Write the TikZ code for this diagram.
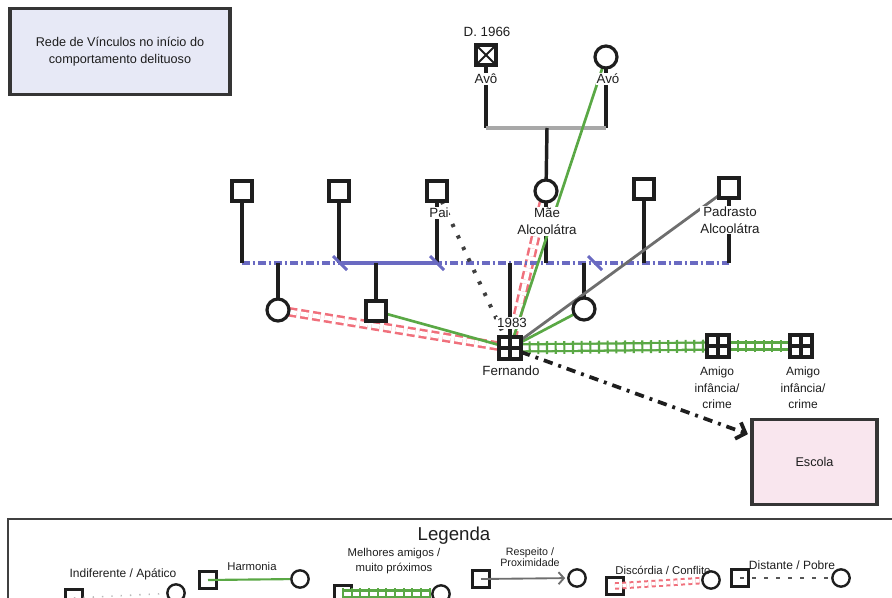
\documentclass[tikz,border=0pt]{standalone}
\usepackage{fontspec}
\setmainfont{Liberation Sans}
\usetikzlibrary{arrows.meta,decorations.markings,backgrounds,calc}

\definecolor{ink}{HTML}{1E1E1E}
\definecolor{kin}{HTML}{A8A8A8}
\definecolor{marry}{HTML}{6A6AC2}
\definecolor{harmony}{HTML}{5AA845}
\definecolor{conflict}{HTML}{F0707C}
\definecolor{respect}{HTML}{6E6E6E}
\definecolor{titlefill}{HTML}{E7E9F6}
\definecolor{schoolfill}{HTML}{F9E6EE}

\tikzset{
  every node/.style={text=ink},
  person/.style={draw=ink, line width=2.4pt, fill=white, inner sep=0pt, outer sep=0pt},
  male/.style={person, rectangle, minimum size=15pt},
  female/.style={person, circle, minimum size=16.5pt},
  indexp/.style={male, minimum size=16.5pt, path picture={
      \draw[ink, line width=2.4pt]
        (path picture bounding box.north) -- (path picture bounding box.south)
        (path picture bounding box.west) -- (path picture bounding box.east);}},
  deceased/.style={male, path picture={
      \draw[ink, line width=1.5pt]
        (path picture bounding box.north west) -- (path picture bounding box.south east)
        (path picture bounding box.north east) -- (path picture bounding box.south west);}},
  lbl/.style={font=\fontsize{10}{12.75}\selectfont, fill=white, inner sep=0.6pt, align=center},
  smalllbl/.style={lbl, font=\fontsize{9}{12.4}\selectfont},
  tie/.style={draw=ink, line width=2.6pt},
  kinline/.style={draw=kin, line width=2.6pt},
  marriage/.style={draw=marry, line width=2.4pt, dash pattern=on 6pt off 2pt on 2pt off 2pt},
  divorce/.style={draw=marry, line width=2.2pt},
  harmonyline/.style={draw=harmony, line width=2pt},
  conflictline/.style={draw=conflict, line width=1.9pt, double=white, double distance=3.4pt,
      dash pattern=on 6pt off 3pt},
  closeline/.style={draw=harmony, line width=1.7pt, double=white, double distance=3.6pt,
      postaction={decorate},
      decoration={markings, mark=between positions 0 and 1 step 6.5pt with
        {\draw[harmony, line width=1.6pt] (0pt,-4.8pt) -- (0pt,4.8pt);}}},
  respectline/.style={draw=respect, line width=2.1pt},
  distantline/.style={draw=ink!85, line width=3pt, dash pattern=on 2.5pt off 7pt},
  schoolarrow/.style={draw=ink, line width=2.8pt, dash pattern=on 7pt off 4.5pt on 2.2pt off 4.5pt,
      -{Straight Barb[length=6pt, width=13pt]}, shorten >=2pt},
  box/.style={draw=ink!90, line width=2.4pt, inner sep=0pt, align=center},
  lsq/.style={draw=ink, line width=1.8pt, rectangle, minimum size=12.5pt, inner sep=0pt},
  lci/.style={draw=ink, line width=1.8pt, circle, minimum size=13pt, inner sep=0pt},
  ltext/.style={font=\fontsize{8.5}{11}\selectfont, align=center},
}

\begin{document}
\begin{tikzpicture}[x=0.75pt,y=-0.75pt]
\useasboundingbox (0,0) rectangle (892,598);

% title box
\node[box, fill=titlefill, minimum width=165pt, minimum height=65pt,
      font=\fontsize{9.5}{12.75}\selectfont] (title) at (120,51.5)
      {Rede de Vínculos no início do\\comportamento delituoso};

% grandparents
\node[deceased] (avoM) at (486,55) {};
\node[female] (avoF) at (606,57) {};
\node[lbl] (avoMdeath) at (487,32) {D. 1966};
\node[lbl] (avoMname) at (486,79) {Avô};
\node[lbl] (avoFname) at (608,79) {Avó};
\coordinate (kin) at (547,128);

% parents' generation
\node[male] (sqA) at (242,191) {};
\node[male] (sqB) at (339,191) {};
\node[male] (pai) at (437,191) {};
\node[female] (mae) at (546,191) {};
\node[male] (sqC) at (644,189) {};
\node[male] (padrasto) at (729,188) {};
\node[lbl] (painame) at (439,213) {Pai};
\node[lbl] (maename) at (547,221.5) {Mãe\\Alcoolátra};
\node[lbl] (padrastoname) at (730,220) {Padrasto\\Alcoolátra};
\coordinate (mL) at (242,263);
\coordinate (mR) at (729,263);

% siblings and Fernando
\node[female] (sibA) at (278,310) {};
\node[male] (sibB) at (376,311) {};
\node[indexp] (fern) at (510,348) {};
\node[female] (sibC) at (584,309) {};
\node[lbl] (fernyear) at (512,323) {1983};
\node[lbl] (fernname) at (511,371) {Fernando};

% friends
\node[indexp] (amigoA) at (718,346) {};
\node[indexp] (amigoB) at (801,346) {};
\node[smalllbl] (amigoAname) at (717,388) {Amigo\\infância/\\crime};
\node[smalllbl] (amigoBname) at (803,388) {Amigo\\infância/\\crime};

% school
\node[box, fill=schoolfill, minimum width=93.75pt, minimum height=63.5pt,
      font=\fontsize{9.5}{10}\selectfont] (escola) at (814.5,462) {Escola};
\coordinate (schoolin) at ($(escola.north west)+(0,17)$);

\begin{pgfonlayer}{background}
  % family structure
  \draw[tie] (avoM) -- (avoM |- kin);
  \draw[tie] (avoF) -- (avoF |- kin);
  \draw[kinline] (avoM |- kin) -- (avoF |- kin);
  \draw[tie] (kin) -- (mae);

  \draw[conflictline] (mae) -- (fern);
  \draw[conflictline] (sibA) -- (fern);

  \draw[marriage] (mL) -- (mR);
  \draw[marriage, solid] (sqB |- mL) -- (pai |- mL);
  \foreach \p in {sqA,sqB,pai,mae,sqC,padrasto} \draw[tie] (\p) -- (\p |- mL);
  \foreach \c in {sibA,sibB,fern,sibC} \draw[tie] (\c |- mL) -- (\c);
  \foreach \x in {340,437,595} \draw[divorce] (\x,263) ++(-7,-7) -- ++(14,14);

  % relationships
  \draw[harmonyline] (avoF) -- (fern);
  \draw[harmonyline] (sibB) -- (fern);
  \draw[harmonyline] (sibC) -- (fern);
  \draw[respectline] (padrasto) -- (fern);
  \draw[distantline] (pai) -- (fern);
  \draw[closeline] (fern) -- (amigoA);
  \draw[closeline] (amigoA) -- (amigoB);
  \draw[schoolarrow] (fern) -- (schoolin);
\end{pgfonlayer}

% legend
\draw[ink!85, line width=1.8pt] (8,598) -- (8,519) -- (892,519);
\node[font=\fontsize{14}{16}\selectfont] (legenda) at (454,536) {Legenda};

\node[ltext, font=\fontsize{9}{11}\selectfont] (indtext) at (123,574) {Indiferente / Apático};
\node[lsq] (indsq) at (74,598) {};
\node[lci] (indci) at (176,593) {};
\draw[gray!55, line width=1.2pt, dash pattern=on 1pt off 6pt] (indsq.center) -- (indci);

\node[ltext] (hartext) at (252,566) {Harmonia};
\node[lsq] (harsq) at (208,580) {};
\node[lci] (harci) at (300,579) {};
\draw[harmonyline, line width=1.6pt] (harsq.center) -- (harci);

\node[ltext] (meltext) at (394,561) {Melhores amigos /\\muito próximos};
\node[lsq] (melsq) at (343,594) {};
\node[lci] (melci) at (441,594) {};
\draw[closeline] (melsq.center) -- (melci);

\node[ltext, font=\fontsize{8}{8.5}\selectfont] (restext) at (530,557) {Respeito /\\Proximidade};
\node[lsq] (ressq) at (481,579) {};
\node[lci] (resci) at (577,578) {};
\draw[respectline, line width=1.4pt, -{Straight Barb[length=4pt, width=9pt]}, shorten >=1.5pt]
  (ressq.center) -- (resci);

\node[ltext] (distext) at (663,570) {Discórdia / Conflito};
\node[lsq] (dissq) at (615,586) {};
\node[lci] (disci) at (711,580) {};
\draw[conflictline, line width=1.5pt, double distance=2.6pt, dash pattern=on 3pt off 2.5pt]
  (dissq.center) -- (disci);

\node[ltext, font=\fontsize{9}{11}\selectfont] (dsttext) at (792,565) {Distante / Pobre};
\node[lsq] (dstsq) at (740,578) {};
\node[lci] (dstci) at (841,578) {};
\draw[draw=ink!75, line width=1.5pt, dash pattern=on 3pt off 6pt] (dstsq.center) -- (dstci);
\end{tikzpicture}
\end{document}
